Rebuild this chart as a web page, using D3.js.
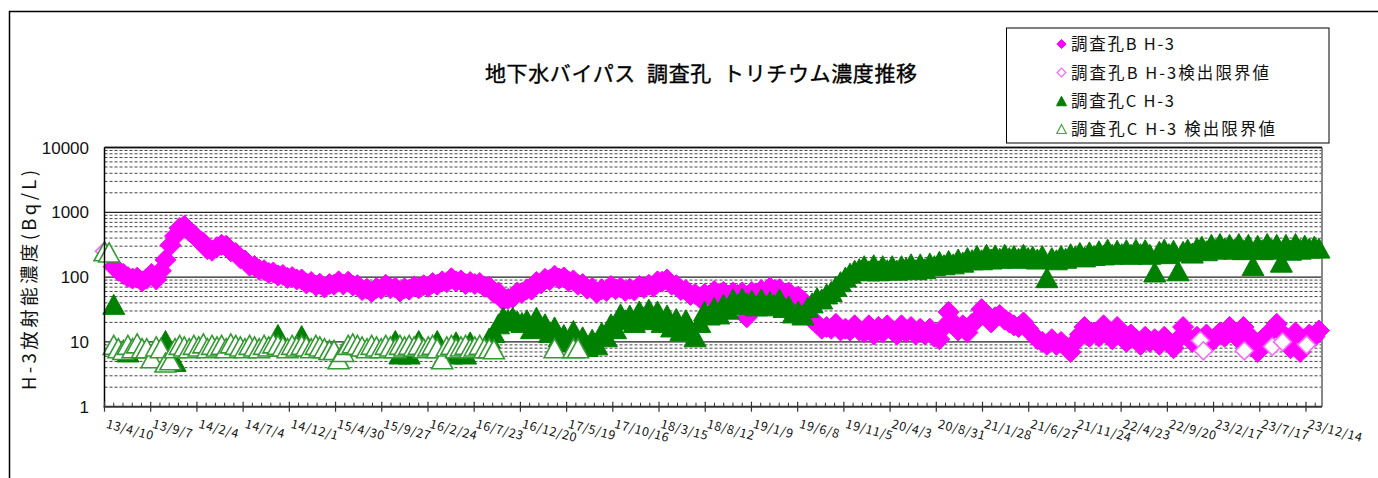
<!DOCTYPE html>
<html><head><meta charset="utf-8">
<script src="https://cdn.jsdelivr.net/npm/d3@7"></script>
<style>body{margin:0;background:#fff;}svg{display:block;}</style>
</head><body>
<svg id="chart" width="1378" height="478"></svg>
<script>
// ---------------- DATA ----------------
const chartTitle = "地下水バイパス\u2002調査孔\u2002トリチウム濃度推移";
const yAxisTitle = "H-3放射能濃度(Bq/L)";
const legendLabels = ["調査孔B H-3", "調査孔B H-3検出限界値", "調査孔C H-3", "調査孔C H-3 検出限界値"];
const yTickValues = [1, 10, 100, 1000, 10000];
const xTickLabels = ["13/4/10","13/9/7","14/2/4","14/7/4","14/12/1","15/4/30","15/9/27","16/2/24","16/7/23","16/12/20","17/5/19","17/10/16","18/3/15","18/8/12","19/1/9","19/6/8","19/11/5","20/4/3","20/8/31","21/1/28","21/6/27","21/11/24","22/4/23","22/9/20","23/2/17","23/7/17","23/12/14"];
const axisEndDate = "24/2/4";

const sampleDates = [
"13/4/10","13/4/25","13/5/10","13/5/25","13/6/10","13/6/25","13/7/10","13/7/25","13/8/10","13/8/25","13/9/10","13/9/25","13/10/10","13/10/25","13/11/10","13/11/25","13/12/10","13/12/25",
"14/1/10","14/1/25","14/2/10","14/2/25","14/3/10","14/3/25","14/4/10","14/4/25","14/5/10","14/5/25","14/6/10","14/6/25","14/7/10","14/7/25","14/8/10","14/8/25","14/9/10","14/9/25","14/10/10","14/10/25","14/11/10","14/11/25","14/12/10","14/12/25",
"15/1/10","15/1/25","15/2/10","15/2/25","15/3/10","15/3/25","15/4/10","15/4/25","15/5/10","15/5/25","15/6/10","15/6/25","15/7/10","15/7/25","15/8/10","15/8/25","15/9/10","15/9/25","15/10/10","15/10/25","15/11/10","15/11/25","15/12/10","15/12/25",
"16/1/10","16/1/25","16/2/10","16/2/25","16/3/10","16/3/25","16/4/10","16/4/25","16/5/10","16/5/25","16/6/10","16/6/25","16/7/10","16/7/25","16/8/10","16/8/25","16/9/10","16/9/25","16/10/10","16/10/25","16/11/10","16/11/25","16/12/10","16/12/25",
"17/1/10","17/1/25","17/2/10","17/2/25","17/3/10","17/3/25","17/4/10","17/4/25","17/5/10","17/5/25","17/6/10","17/6/25","17/7/10","17/7/25","17/8/10","17/8/25","17/9/10","17/9/25","17/10/10","17/10/25","17/11/10","17/11/25","17/12/10","17/12/25",
"18/1/10","18/1/25","18/2/10","18/2/25","18/3/10","18/3/25","18/4/10","18/4/25","18/5/10","18/5/25","18/6/10","18/6/25","18/7/10","18/7/25","18/8/10","18/8/25","18/9/10","18/9/25","18/10/10","18/10/25","18/11/10","18/11/25","18/12/10","18/12/25",
"19/1/10","19/1/25","19/2/10","19/2/25","19/3/10","19/3/25","19/4/10","19/4/25","19/5/10","19/5/25","19/6/10","19/6/25","19/7/10","19/7/25","19/8/10","19/8/25","19/9/10","19/9/25","19/10/10","19/10/25","19/11/10","19/11/25","19/12/10","19/12/25",
"20/1/10","20/1/25","20/2/10","20/2/25","20/3/10","20/3/25","20/4/10","20/4/25","20/5/10","20/5/25","20/6/10","20/6/25","20/7/10","20/7/25","20/8/10","20/8/25","20/9/10","20/9/25","20/10/10","20/10/25","20/11/10","20/11/25","20/12/10","20/12/25",
"21/1/10","21/1/25","21/2/10","21/2/25","21/3/10","21/3/25","21/4/10","21/4/25","21/5/10","21/5/25","21/6/10","21/6/25","21/7/10","21/7/25","21/8/10","21/8/25","21/9/10","21/9/25","21/10/10","21/10/25","21/11/10","21/11/25","21/12/10","21/12/25",
"22/1/10","22/1/25","22/2/10","22/2/25","22/3/10","22/3/25","22/4/10","22/4/25","22/5/10","22/5/25","22/6/10","22/6/25","22/7/10","22/7/25","22/8/10","22/8/25","22/9/10","22/9/25","22/10/10","22/10/25","22/11/10","22/11/25","22/12/10","22/12/25",
"23/1/10","23/1/25","23/2/10","23/2/25","23/3/10","23/3/25","23/4/10","23/4/25","23/5/10","23/5/25","23/6/10","23/6/25","23/7/10","23/7/25","23/8/10","23/8/25","23/9/10","23/9/25","23/10/10","23/10/25","23/11/10","23/11/25","23/12/10","23/12/25",
"24/1/10","24/1/25"
];

// 調査孔B H-3 (aligned with sampleDates)
const holeB = [
null,null,145,125,112,100,95,98,86,95,112,92,125,185,310,430,570,620,
510,450,370,340,270,255,290,315,305,250,235,195,180,150,148,130,128,116,118,106,108,97,100,92,
92,80,84,74,79,69,78,76,86,77,85,74,75,63,66,59,68,66,76,67,69,60,67,64,
72,67,75,71,81,76,86,83,96,86,89,78,84,78,81,71,71,57,58,44,46,48,58,57,
65,64,84,80,94,90,105,95,99,86,89,76,78,66,68,57,65,61,73,65,69,61,66,62,
73,68,76,71,86,85,92,76,75,63,63,53,55,48,55,52,61,55,59,52,58,53,58,24,
59,55,63,59,69,63,65,55,58,49,50,43,36,22,19,16,17,16,19,15,16,15,18,15,
14,18,13,17,14,18,15,13,18,14,17,13,16,13,16,12,11,17,29,20,15,18,14,19,
22,32,25,20,24,26,22,20,18,17,20,16,13,11,10,9,11,9,10,8.5,7,10,13,17,
12,14,12,18,13,11,17,12,10,13,11,9,12,10,11,9,12,10,8,11,17,12,10,12,
11,13,10,12,14,12,17,13,11,17,13,10,7,11,13,15,19,14,10,8,14,7,11,13,
12,15
];

// 調査孔B H-3 検出限界値
const holeBLimitDates = ["13/4/10","23/1/5","23/1/15","23/5/28","23/8/27","23/9/29","23/12/16"];
const holeBLimit = [250, 10.5, 7.3, 7.3, 8.5, 10, 9];

// 調査孔C H-3 (aligned with sampleDates)
const holeC = [
null,null,38,null,null,7,null,null,null,null,null,null,null,10.5,null,5,null,null,
null,null,null,null,null,null,null,null,null,null,null,null,null,null,null,null,null,null,null,13,null,null,null,null,
12.5,null,null,null,null,null,null,null,null,null,null,null,null,null,null,null,null,null,null,null,10.5,6.5,null,6.5,
null,10.5,null,null,null,10.5,null,null,6.5,10,null,6.5,10,null,null,null,11.5,14,19,24,22,24,21,20,
22,16,24,17,19,14,17,12,13,10,15,9,12,8.5,11,9,14,12,19,16,27,22,26,20,
30,24,32,22,30,20,26,17,23,15,22,16,12,20,30,26,34,27,38,32,46,38,47,40,
44,36,46,36,42,38,46,34,36,28,30,26,34,40,48,46,55,60,72,85,100,115,128,135,
150,125,155,125,150,130,150,128,150,140,160,130,160,135,165,150,175,155,180,160,190,170,200,185,
215,185,225,190,220,195,225,200,215,195,225,200,210,190,215,98,200,185,215,195,230,210,240,205,
245,215,255,220,270,225,260,230,265,225,270,230,265,225,120,250,270,230,260,125,250,270,235,285,
300,255,320,270,330,280,320,270,330,265,320,150,310,265,330,270,320,170,320,260,330,270,310,280,
300,280
];

// 調査孔C H-3 検出限界値 (aligned with sampleDates, ends early)
const holeCLimit = [
250,240,9,8,7.5,9,8,9.5,8,8,5.6,8.5,8,4.8,5.2,8,9,8.5,
8,9,8.5,9.5,8,9,8.5,9,8,9.5,9,8.5,8,9,8.5,8,9,8.5,9.5,9,8.5,8,9,8.5,
9,8.5,8,9,8.5,8,7.5,7.5,5.4,7,9,9.5,9,8.5,8,9,8.5,8,9,8.5,8,9,8.5,9,
8.5,9,8,8.5,9,8,5.4,8.5,9,8,8.5,9,8,8.5,9,8,8,7.7,null,null,null,null,null,null,
null,null,null,null,null,null,8,null,null,null,8,8
];

// ---------------- CHART ----------------
const W = 1378, H = 478;
const P = {left: 104.5, right: 1322, top: 147.5, bottom: 406.7};
const parse = d3.timeParse("%y/%m/%d");
const jp = "'Noto Sans CJK JP', 'Noto Sans', sans-serif";

const svg = d3.select("#chart");
svg.append("rect").attr("width", W).attr("height", H).attr("fill", "#fff");

const x = d3.scaleTime().domain([parse(xTickLabels[0]), parse(axisEndDate)]).range([P.left, P.right]);
const y = d3.scaleLog().domain([1, 10000]).range([P.bottom, P.top]);

// outer chart border (top & left visible)
svg.append("path").attr("d", `M9.5,${H}V11.5H${W}`).attr("fill", "none").attr("stroke", "#000").attr("stroke-width", 1.5);

// gridlines
const grid = svg.append("g");
y.ticks().forEach(v => {
  const major = Math.abs(Math.log10(v) - Math.round(Math.log10(v))) < 1e-9;
  if (v === 1) return;
  grid.append("line")
    .attr("x1", P.left).attr("x2", P.right)
    .attr("y1", y(v)).attr("y2", y(v))
    .attr("stroke", major ? "#222" : "#444")
    .attr("stroke-width", major ? 1.3 : 1)
    .attr("stroke-dasharray", major ? null : "3,2");
});

// right border of plot
svg.append("line").attr("x1", P.right).attr("x2", P.right).attr("y1", P.top).attr("y2", P.bottom)
  .attr("stroke", "#888").attr("stroke-width", 2);

// marker shapes
const diamond = r => `M0,${-r}L${r},0L0,${r}L${-r},0Z`;
const triangle = (w, h) => `M0,${-h/2}L${w/2},${h/2}L${-w/2},${h/2}Z`;

const pts = (dates, vals) => vals.map((v, i) => ({d: parse(dates[i]), v})).filter(p => p.v != null);

const layers = [
  {data: pts(sampleDates, holeB), path: diamond(10.5), fill: "#FF00FF", stroke: "#FF00FF", sw: 1},
  {data: pts(holeBLimitDates, holeBLimit), path: diamond(9), fill: "#fff", stroke: "#FF66FF", sw: 1.6},
  {data: pts(sampleDates, holeC), path: triangle(22, 20), fill: "#008000", stroke: "#008000", sw: 1},
  {data: pts(sampleDates, holeCLimit), path: triangle(21, 19), fill: "#fff", stroke: "#339933", sw: 1.6}
];
layers.forEach(L => {
  svg.append("g").selectAll("path").data(L.data).join("path")
    .attr("d", L.path)
    .attr("transform", p => `translate(${x(p.d)},${y(p.v)})`)
    .attr("fill", L.fill).attr("stroke", L.stroke).attr("stroke-width", L.sw)
    .attr("stroke-linejoin", "miter");
});

// axes lines
svg.append("line").attr("x1", P.left).attr("x2", P.left).attr("y1", P.top).attr("y2", P.bottom)
  .attr("stroke", "#000").attr("stroke-width", 1.5);
svg.append("line").attr("x1", P.left).attr("x2", P.right).attr("y1", P.top).attr("y2", P.top)
  .attr("stroke", "#111").attr("stroke-width", 1.5);
svg.append("line").attr("x1", P.left - 1).attr("x2", P.right).attr("y1", P.bottom).attr("y2", P.bottom)
  .attr("stroke", "#333").attr("stroke-width", 2);

// x ticks
const majorDates = xTickLabels.map(parse);
const minorDates = [];
majorDates.forEach(d => { for (let k = 1; k <= 4; k++) { const m = d3.timeDay.offset(d, 30 * k); if (m <= x.domain()[1]) minorDates.push(m); } });
svg.append("g").selectAll("line.mn").data(minorDates).join("line")
  .attr("x1", d => x(d)).attr("x2", d => x(d)).attr("y1", P.bottom - 4).attr("y2", P.bottom)
  .attr("stroke", "#333").attr("stroke-width", 1);
svg.append("g").selectAll("line.mj").data(majorDates).join("line")
  .attr("x1", d => x(d)).attr("x2", d => x(d)).attr("y1", P.bottom - 5).attr("y2", P.bottom + 5)
  .attr("stroke", "#333").attr("stroke-width", 1.2);
svg.append("g").selectAll("text").data(xTickLabels).join("text")
  .attr("transform", s => `translate(${x(parse(s)) + 1},${P.bottom + 21}) rotate(15)`)
  .attr("font-family", jp).attr("font-size", 12.5).attr("letter-spacing", 0.6)
  .attr("fill", "#111").text(s => s);

// y tick labels
svg.append("g").selectAll("text").data(yTickValues).join("text")
  .attr("x", 89).attr("y", v => y(v)).attr("dy", "0.36em")
  .attr("text-anchor", "end").attr("font-family", "'Liberation Sans', Arial, sans-serif")
  .attr("font-size", 17).attr("fill", "#111").text(v => v);

// y axis title
svg.append("text").attr("transform", `translate(36,280) rotate(-90)`)
  .attr("text-anchor", "middle").attr("font-family", jp).attr("font-size", 18.5)
  .attr("textLength", 220).attr("lengthAdjust", "spacing")
  .attr("fill", "#111").text(yAxisTitle);

// title
svg.append("text").attr("x", 701).attr("y", 81).attr("text-anchor", "middle")
  .attr("font-family", jp).attr("font-size", 21).attr("textLength", 432).attr("lengthAdjust", "spacing")
  .attr("fill", "#000").attr("stroke", "#000").attr("stroke-width", 0.35).text(chartTitle);

// legend
const lg = svg.append("g");
lg.append("rect").attr("x", 1006.5).attr("y", 28).attr("width", 322.5).attr("height", 115)
  .attr("fill", "#fff").attr("stroke", "#000").attr("stroke-width", 1);
const legendRowsY = [44, 72.5, 101, 129];
const legendLen = [103, 198, 103, 204];
const legendMarks = [
  {path: diamond(4.6), fill: "#FF00FF", stroke: "#FF00FF", sw: 1},
  {path: diamond(4.4), fill: "#fff", stroke: "#FF66FF", sw: 1.2},
  {path: triangle(10, 9.5), fill: "#008000", stroke: "#008000", sw: 1},
  {path: triangle(9.5, 9), fill: "#fff", stroke: "#44AA44", sw: 1.2}
];
legendLabels.forEach((t, i) => {
  const m = legendMarks[i];
  lg.append("path").attr("d", m.path).attr("transform", `translate(1061.5,${legendRowsY[i]})`)
    .attr("fill", m.fill).attr("stroke", m.stroke).attr("stroke-width", m.sw);
  lg.append("text").attr("x", 1071).attr("y", legendRowsY[i] + 6)
    .attr("font-family", jp).attr("font-size", 16.5).attr("fill", "#111")
    .attr("textLength", legendLen[i]).attr("lengthAdjust", "spacing").text(t);
});
</script>
</body></html>
